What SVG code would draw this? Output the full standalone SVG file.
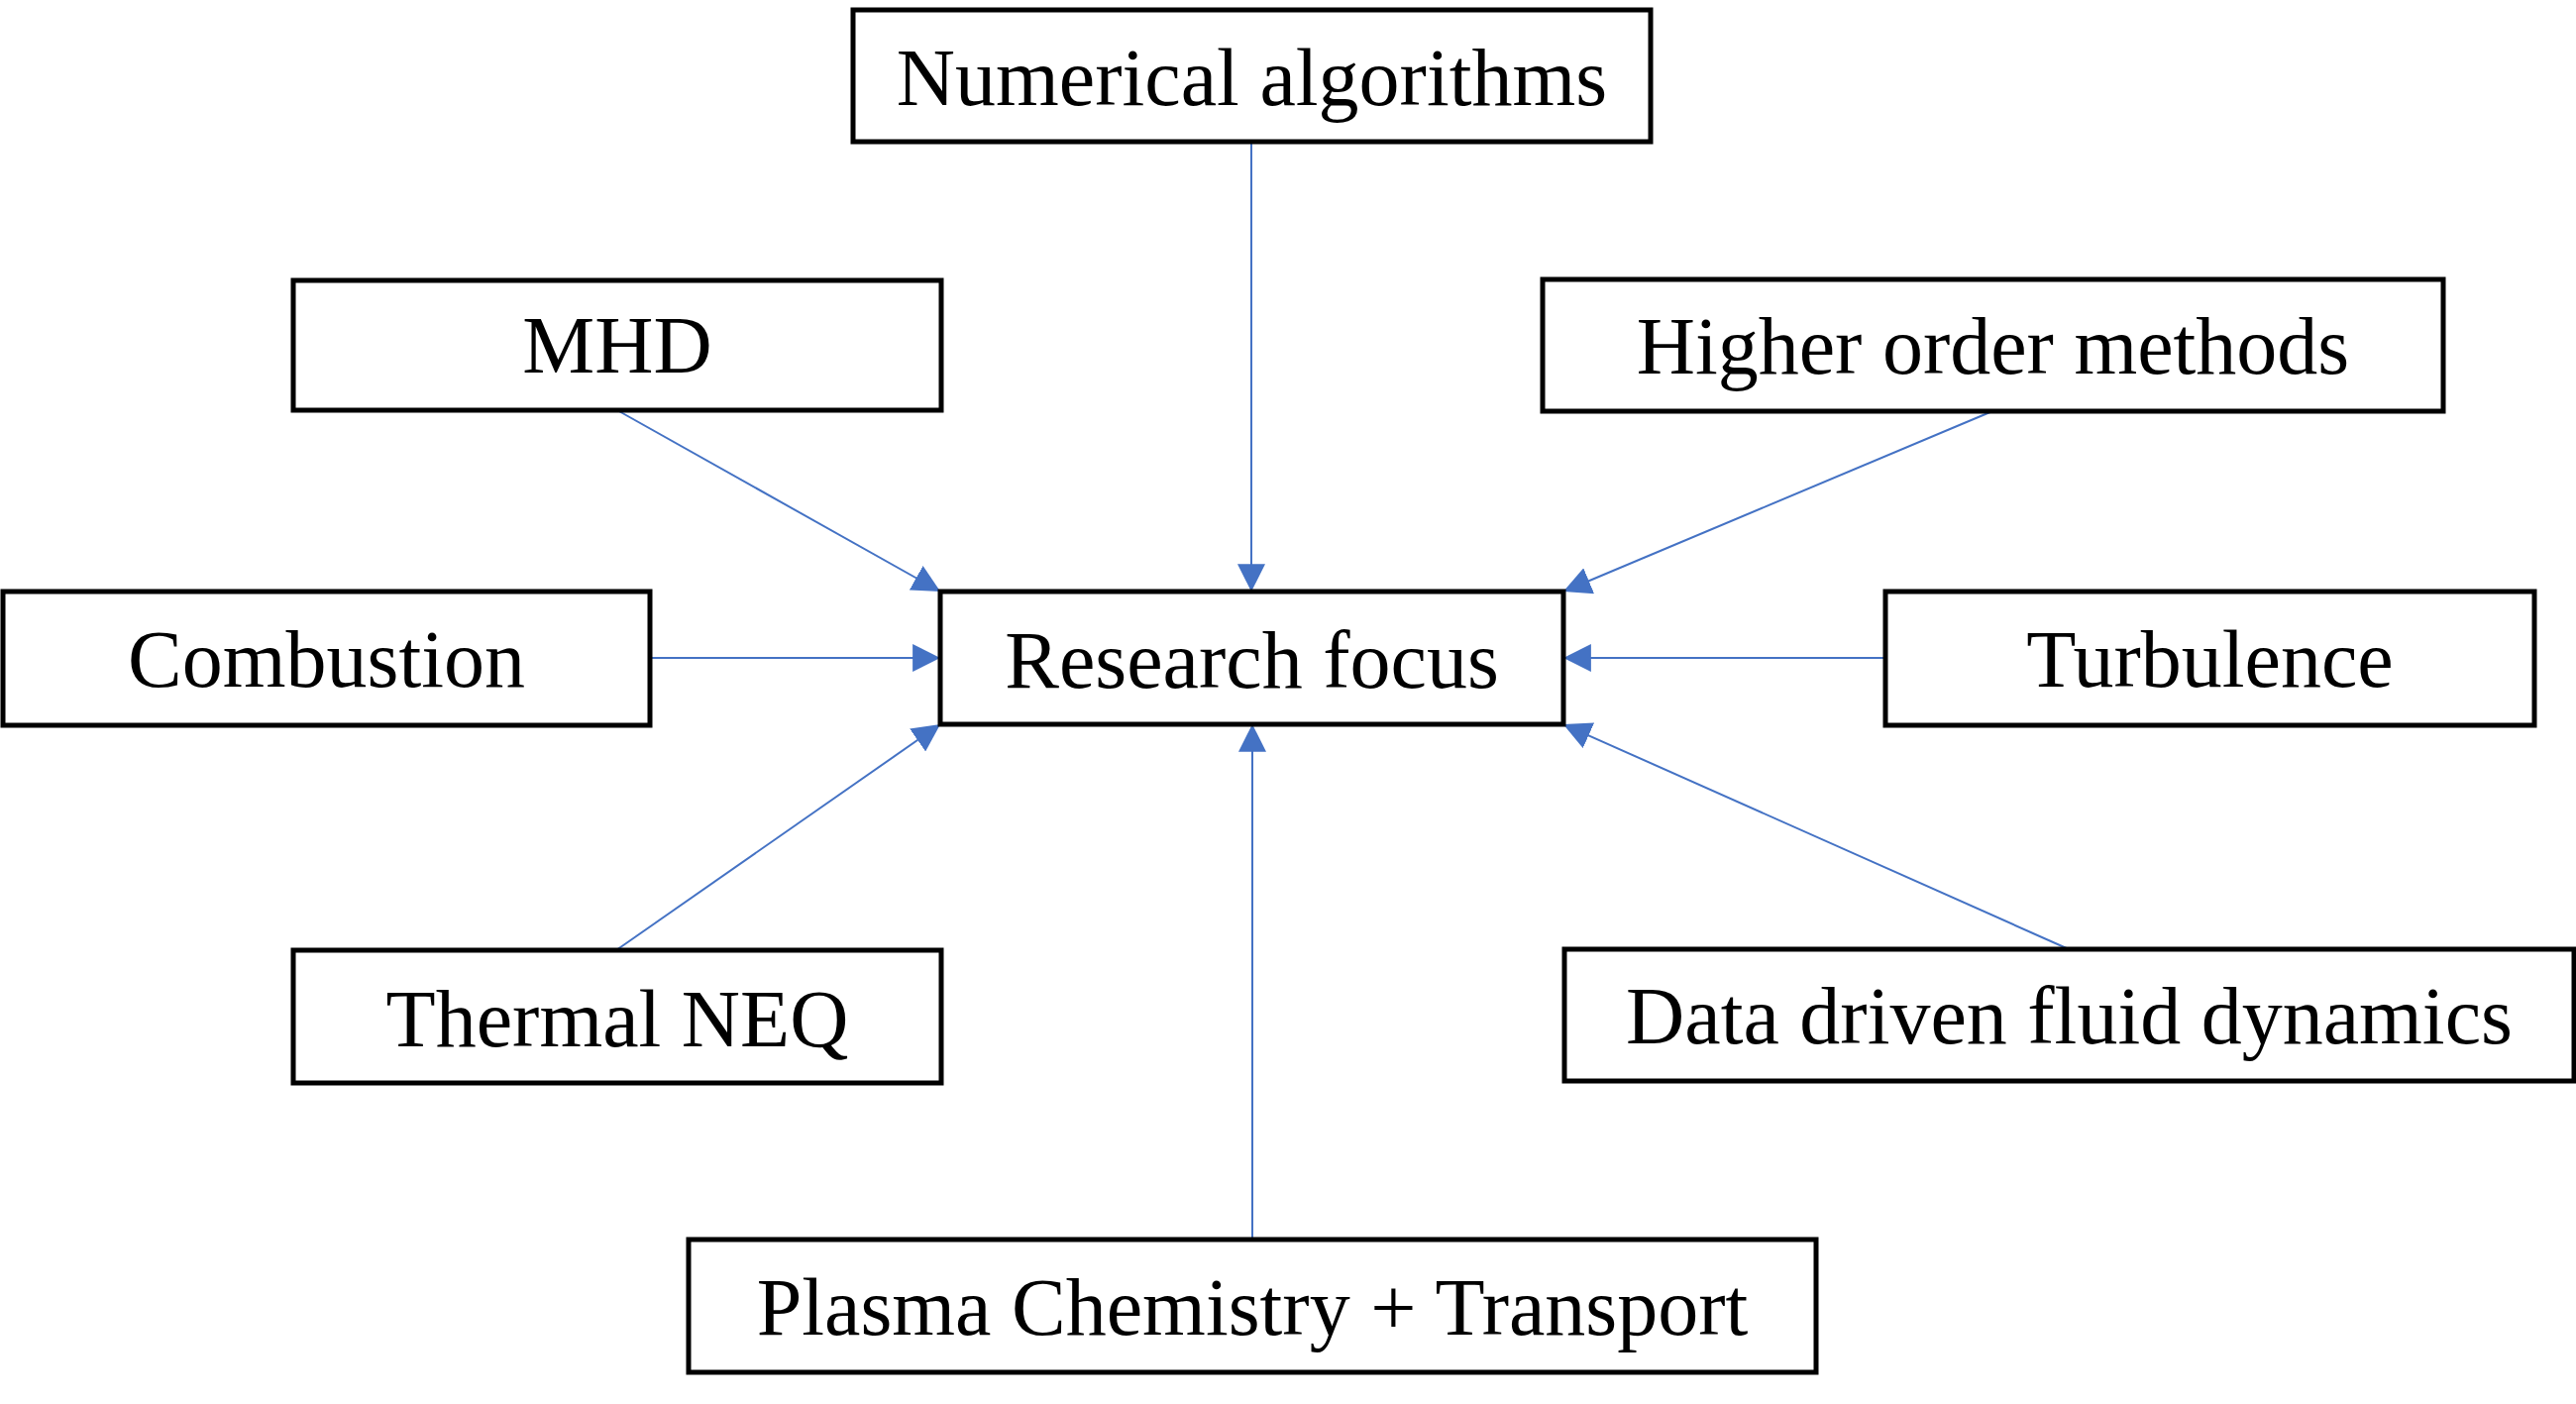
<svg xmlns="http://www.w3.org/2000/svg" width="2600" height="1417" viewBox="0 0 2600 1417">
<style>
.box{fill:#fff;stroke:#000;stroke-width:5}
.lbl{font-family:"Liberation Serif","Times New Roman",serif;font-size:82px;fill:#000;text-anchor:middle}
.con{stroke:#4472C4;stroke-width:2;fill:none;marker-end:url(#arr)}
</style>
<defs>
<marker id="arr" markerUnits="userSpaceOnUse" markerWidth="28" markerHeight="28" viewBox="0 0 27 27" refX="23" refY="13.5" orient="auto">
<path d="M0,0 L27,13.5 L0,27 Z" fill="#4472C4"/>
</marker>
</defs>
<rect width="2600" height="1417" fill="#fff"/>
<g id="connectors">
<line class="con" x1="1263" y1="143" x2="1263" y2="593"/>
<line class="con" x1="623" y1="414" x2="945.5" y2="595"/>
<line class="con" x1="2011" y1="415" x2="1581.7" y2="595.5"/>
<line class="con" x1="656" y1="664" x2="945" y2="664"/>
<line class="con" x1="1903" y1="664" x2="1582" y2="664"/>
<line class="con" x1="622" y1="959" x2="945.7" y2="733.3"/>
<line class="con" x1="2088" y1="958" x2="1581.6" y2="732.6"/>
<line class="con" x1="1264" y1="1251" x2="1264" y2="735"/>
</g>
<g id="numerical">
<rect class="box" x="861" y="10" width="805" height="133"/>
<text class="lbl" x="1263.5" y="106">Numerical algorithms</text>
</g>
<g id="mhd">
<rect class="box" x="296" y="283" width="654" height="131"/>
<text class="lbl" x="623" y="376">MHD</text>
</g>
<g id="higher">
<rect class="box" x="1557" y="282" width="909" height="133"/>
<text class="lbl" x="2011.5" y="377">Higher order methods</text>
</g>
<g id="combustion">
<rect class="box" x="3" y="597" width="653" height="135"/>
<text class="lbl" x="329.5" y="693">Combustion</text>
</g>
<g id="research">
<rect class="box" x="949" y="597" width="629" height="134"/>
<text class="lbl" x="1263.5" y="694">Research focus</text>
</g>
<g id="turbulence">
<rect class="box" x="1903" y="597" width="655" height="135"/>
<text class="lbl" x="2230.5" y="693">Turbulence</text>
</g>
<g id="thermal">
<rect class="box" x="296" y="959" width="654" height="134"/>
<text class="lbl" x="623" y="1056">Thermal NEQ</text>
</g>
<g id="datadriven">
<rect class="box" x="1579" y="958" width="1019" height="133"/>
<text class="lbl" x="2088.5" y="1053">Data driven fluid dynamics</text>
</g>
<g id="plasma">
<rect class="box" x="695" y="1251" width="1138" height="134"/>
<text class="lbl" x="1264" y="1347">Plasma Chemistry + Transport</text>
</g>
</svg>
